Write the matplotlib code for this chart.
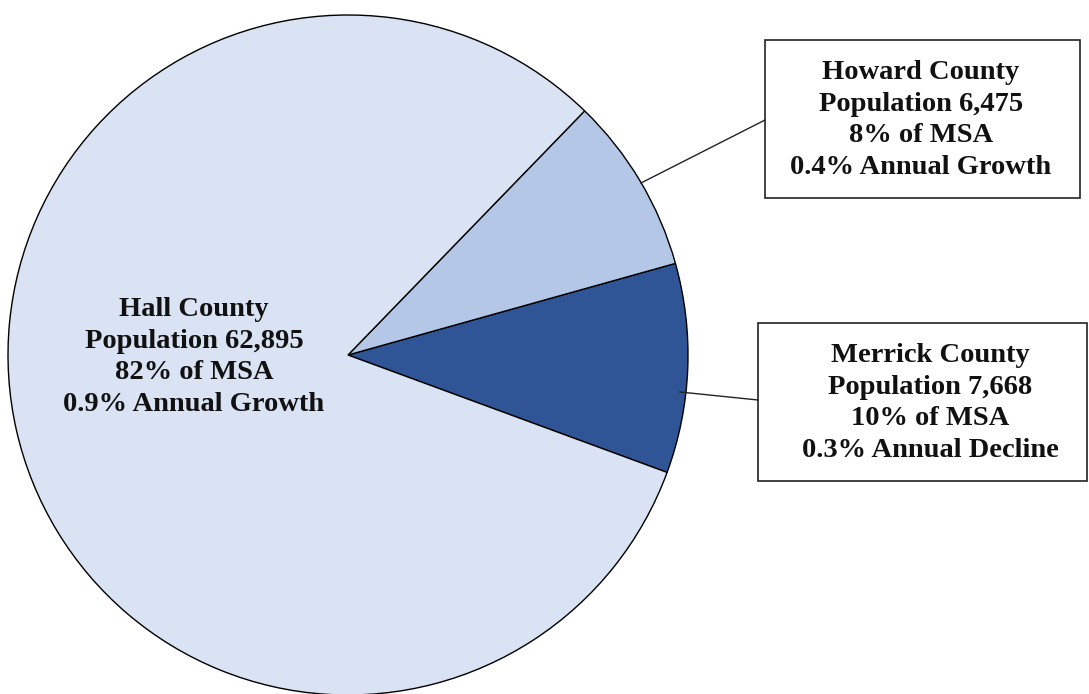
import matplotlib.pyplot as plt
from matplotlib.patches import Rectangle

# data
counties = ['Merrick County', 'Howard County', 'Hall County']
population = [7668, 6475, 62895]
share = ['10%', '8%', '82%']
growth = ['0.3% Annual Decline', '0.4% Annual Growth', '0.9% Annual Growth']
colors = ['#2F5597', '#B4C7E7', '#DAE3F3']

W, H = 1089, 694
fig = plt.figure(figsize=(W / 100, H / 100), dpi=100)
ax = fig.add_axes([0, 0, 1, 1])

cx, cy, r = 348, H - 355, 340
ax.pie(population, colors=colors, startangle=-20.2, counterclock=True,
       center=(cx, cy), radius=r, frame=True,
       wedgeprops=dict(edgecolor='black', linewidth=1.0))
ax.set_xlim(0, W)
ax.set_ylim(0, H)
ax.axis('off')

font = dict(family='Liberation Serif', fontweight='bold', fontsize=20.5,
            ha='center', va='center', linespacing=1.36, color='#111111')


def label(i):
    return (f"{counties[i]}\nPopulation {population[i]:,}\n"
            f"{share[i]} of MSA\n{growth[i]}")


# Hall label inside the pie
ax.text(194, H - 357, label(2), **font)

# Howard box
ax.add_patch(Rectangle((765, H - 198), 315, 158, facecolor='white',
                       edgecolor='#222222', linewidth=1.2))
ax.text(921, H - 120, label(1), **font)
ax.plot([641, 765], [H - 183, H - 120], color='#222222', linewidth=1.0)

# Merrick box
ax.add_patch(Rectangle((758, H - 481), 329, 158, facecolor='white',
                       edgecolor='#222222', linewidth=1.2))
ax.text(930, H - 403, label(0), **font)
ax.plot([680, 758], [H - 392, H - 400], color='#222222', linewidth=1.0)

fig.savefig('out.png', dpi=100)
